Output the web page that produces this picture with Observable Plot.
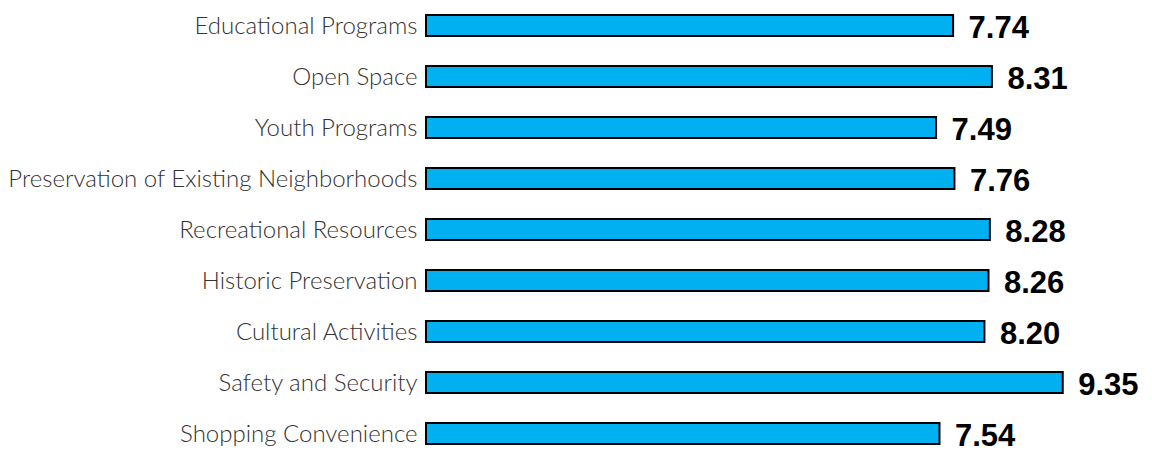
<!DOCTYPE html>
<html>
<head>
<meta charset="utf-8">
<script src="https://cdn.jsdelivr.net/npm/d3@7"></script>
<script src="https://cdn.jsdelivr.net/npm/@observablehq/plot@0.6"></script>
<style>
  html, body { margin: 0; padding: 0; background: #fff; }
</style>
</head>
<body>
<div id="chart"></div>
<script>
const categories = [
  "Educational Programs",
  "Open Space",
  "Youth Programs",
  "Preservation of Existing Neighborhoods",
  "Recreational Resources",
  "Historic Preservation",
  "Cultural Activities",
  "Safety and Security",
  "Shopping Convenience"
];
const values = [7.74, 8.31, 7.49, 7.76, 8.28, 8.26, 8.20, 9.35, 7.54];

const data = categories.map((c, i) => ({category: c, value: values[i]}));

const chart = Plot.plot({
  width: 1152,
  height: 458,
  marginLeft: 426,
  marginRight: 45,
  marginTop: 13.5,
  marginBottom: 13.5,
  style: {fontFamily: "Lato, 'Open Sans', sans-serif", fontSize: "24px", color: "#333", background: "#fff"},
  x: {domain: [0, 10], axis: null},
  y: {domain: categories, paddingInner: 0.59, paddingOuter: 0, label: null},
  marks: [
    Plot.axisY({tickSize: 0, tickPadding: 9, fontSize: 24, fontWeight: 300, label: null, fill: "#333"}),
    Plot.barX(data, {y: "category", x: "value", fill: "#00B0F0", stroke: "#000", strokeWidth: 2}),
    Plot.text(data, {
      y: "category", x: "value", text: d => d.value.toFixed(2),
      dx: 15, dy: 2, textAnchor: "start",
      fontFamily: "'Liberation Sans', Arial, sans-serif", fontWeight: "bold", fontSize: 31, fill: "#000"
    })
  ]
});
document.getElementById("chart").appendChild(chart);
</script>
</body>
</html>
